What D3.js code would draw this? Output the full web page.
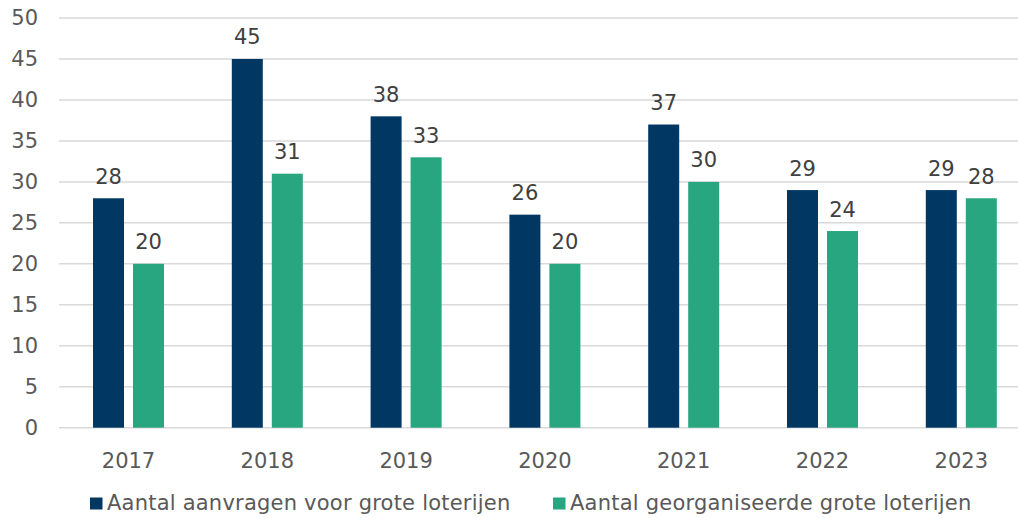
<!DOCTYPE html>
<html><head><meta charset="utf-8">
<script src="https://cdn.jsdelivr.net/npm/d3@7"></script>
<style>body{margin:0;background:#fff}text{font-family:"DejaVu Sans",Verdana,sans-serif}</style>
</head><body><svg id="c" width="1018" height="518"></svg>
<script>
const categories = ["2017","2018","2019","2020","2021","2022","2023"];
const seriesNames = ["Aantal aanvragen voor grote loterijen","Aantal georganiseerde grote loterijen"];
const aanvragen = [28,45,38,26,37,29,29];
const georganiseerd = [20,31,33,20,30,24,28];
const yTicks = [0,5,10,15,20,25,30,35,40,45,50];
const colors = ["#003863","#27a67f"];

const svg = d3.select("#c");
const pLeft = 59.1, pRight = 1030.7, pTop = 18, pBottom = 427.7;
const x = d3.scaleBand().domain(categories).range([pLeft, pRight]).paddingInner(0).paddingOuter(0);
const y = d3.scaleLinear().domain([0,50]).range([pBottom, pTop]);
const bw = 31, gap = 9;

// grid
svg.append("g").selectAll("line").data(yTicks).join("line")
  .attr("x1", pLeft).attr("x2", pRight)
  .attr("y1", d => y(d)).attr("y2", d => y(d))
  .attr("stroke", "#d9d9d9").attr("stroke-width", 1.5);

// y axis labels
const yAxis = d3.axisLeft(y).tickValues(yTicks).tickSize(0).tickPadding(0);
const ga = svg.append("g").attr("transform", `translate(38,0)`).call(yAxis);
ga.select(".domain").remove();
ga.selectAll("text").attr("fill", "#595959").style("font-size", "21px").style("font-family", '"DejaVu Sans",Verdana,sans-serif');

// x axis labels
const xAxis = d3.axisBottom(x).tickSize(0).tickPadding(0);
const gx = svg.append("g").attr("transform", `translate(0,${pBottom})`).call(xAxis);
gx.select(".domain").remove();
gx.selectAll("text").attr("fill", "#595959").attr("dy", 0).attr("y", 40).style("font-size", "21px").style("font-family", '"DejaVu Sans",Verdana,sans-serif');

const series = [aanvragen, georganiseerd];
series.forEach((vals, si) => {
  const g = svg.append("g");
  const xo = c => x(c) + x.bandwidth()/2 - (bw + gap/2) + si * (bw + gap);
  g.selectAll("rect").data(categories).join("rect")
    .attr("x", c => xo(c)).attr("width", bw)
    .attr("y", (c,i) => y(vals[i])).attr("height", (c,i) => y(0) - y(vals[i]))
    .attr("fill", colors[si]);
  g.selectAll("text").data(categories).join("text")
    .attr("x", c => xo(c) + bw/2).attr("y", (c,i) => y(vals[i]) - 14.5)
    .attr("text-anchor", "middle").attr("fill", "#404040").style("font-size", "21px")
    .text((c,i) => vals[i]);
});

// legend
const legX = [90, 553];
seriesNames.forEach((n, i) => {
  svg.append("rect").attr("x", legX[i]).attr("y", 497.5).attr("width", 12.5).attr("height", 12).attr("fill", colors[i]);
  svg.append("text").attr("x", legX[i] + 17).attr("y", 510).attr("fill", "#595959")
    .style("font-size", "21px").style("letter-spacing", "0.22px").text(n);
});
</script></body></html>
